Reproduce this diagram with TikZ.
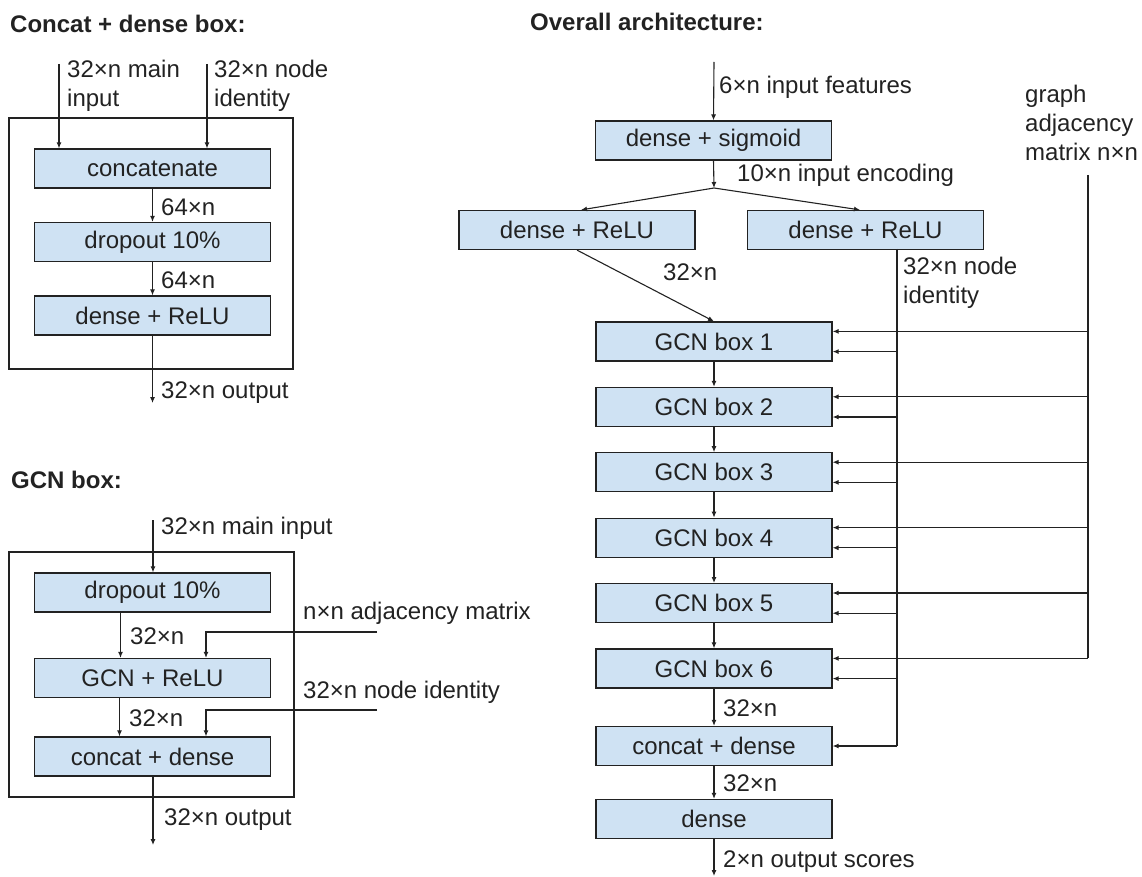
\documentclass[tikz,border=0pt]{standalone}
\usepackage{fontspec}
\setmainfont{Liberation Sans}
\usetikzlibrary{calc,arrows.meta}
\definecolor{boxfill}{HTML}{CFE2F3}
\definecolor{ink}{HTML}{222222}
\begin{document}
\begin{tikzpicture}[x=1pt,y=-1pt,
  every node/.style={font=\fontsize{24}{29}\selectfont, text=ink},
  box/.style={draw=ink, line width=1.2pt, fill=boxfill, minimum width=236pt, minimum height=39pt, inner sep=0pt},
  lbl/.style={anchor=west, align=left, inner sep=0pt},
  ttl/.style={anchor=west, inner sep=0pt, font=\fontsize{24}{29}\selectfont\bfseries},
  arr/.style={draw=ink, line width=1.1pt, -{Latex[length=6pt,width=5pt]}},
  wire/.style={draw=ink, line width=1.1pt},
  frame/.style={draw=ink, line width=1.3pt, inner sep=0pt}]
\useasboundingbox (0,0) rectangle (1142,877);

% ---------- Concat + dense box ----------
\node[ttl] (t1) at (10,24) {Concat + dense box:};
\node[frame, minimum width=284pt, minimum height=251pt] (fr1) at (151,243.5) {};
\node[box] (cat) at (152.5,168.5) {concatenate};
\node[box] (drop1) at (152.5,242) {dropout 10\%};
\node[box] (dense1) at (152.5,315.5) {dense + ReLU};
\coordinate (mainIn) at (59,64);
\coordinate (idIn) at (207,64);
\coordinate (out1) at (152.5,403);
\draw[arr] (mainIn) -- (mainIn |- cat.north);
\draw[arr] (idIn) -- (idIn |- cat.north);
\draw[arr] (cat) -- (drop1);
\draw[arr] (drop1) -- (dense1);
\draw[arr] (dense1.south) -- (out1);
\node[lbl] (l1) at (67,86) {32×n main\\input};
\node[lbl] (l2) at (214,86) {32×n node\\identity};
\node[lbl] (l3) at (161,207) {64×n};
\node[lbl] (l4) at (161,280) {64×n};
\node[lbl] (l5) at (161,393) {32×n output};

% ---------- GCN box ----------
\node[ttl] (t2) at (11,480) {GCN box:};
\node[frame, minimum width=285pt, minimum height=245pt] (fr2) at (151.5,674.5) {};
\node[box] (drop2) at (152.5,592.5) {dropout 10\%};
\node[box] (gcnr) at (152.5,678) {GCN + ReLU};
\node[box] (catd) at (152.5,756.5) {concat + dense};
\coordinate (in2) at (153,520);
\coordinate (out2) at (153,845);
\coordinate (adjS) at (377,632);
\coordinate (idS) at (377,710);
\draw[arr] (in2) -- (in2 |- drop2.north);
\draw[arr] ([xshift=-32pt]drop2.south) -- ([xshift=-32pt]gcnr.north);
\draw[arr] ([xshift=-33pt]gcnr.south) -- ([xshift=-33pt]catd.north);
\draw[arr] (adjS) -| ([xshift=53.5pt]gcnr.north);
\draw[arr] (idS) -| ([xshift=53.5pt]catd.north);
\draw[arr] (in2 |- catd.south) -- (out2);
\node[lbl] (m1) at (161,528) {32×n main input};
\node[lbl] (m2) at (130,636) {32×n};
\node[lbl] (m3) at (129,718) {32×n};
\node[lbl] (m4) at (303,613) {n×n adjacency matrix};
\node[lbl] (m5) at (303,692) {32×n node identity};
\node[lbl] (m6) at (164,820) {32×n output};

% ---------- Overall architecture ----------
\node[ttl] (t3) at (530,22) {Overall architecture:};
\node[box] (sig) at (713.5,140.5) {dense + sigmoid};
\node[box] (relL) at (577,230) {dense + ReLU};
\node[box] (relR) at (865.5,230) {dense + ReLU};
\foreach \i in {1,...,6} {
  \node[box] (g\i) at (714,{341.5+65.4*(\i-1)}) {GCN box \i};
}
\node[box] (cd) at (714,746) {concat + dense};
\node[box] (fin) at (714,819) {dense};

\coordinate (featIn) at (714,62);
\coordinate (split) at (714,188);
\coordinate (scoreOut) at (714,876);
\coordinate (idTop) at (897,249);
\coordinate (adjTop) at (1088,175);

\draw[arr] (featIn) -- (sig.north);
\draw[arr] (sig.south) -- (split);
\draw[arr] (split) -- ([xshift=4pt]relL.north);
\draw[arr] (split) -- ([xshift=-5.5pt]relR.north);
\draw[arr] (relL.south) -- (g1.north);
\foreach \i [count=\j from 2] in {1,...,5} {
  \draw[arr] (g\i) -- (g\j);
}
\draw[arr] (g6) -- (cd);
\draw[arr] (cd) -- (fin);
\draw[arr] (fin.south) -- (scoreOut);

% adjacency bus and node-identity bus
\foreach \i in {1,...,6} {
  \coordinate (a\i) at ($(g\i.north east)+(0,10)$);
  \coordinate (b\i) at ($(g\i.south east)+(0,-10)$);
}
\draw[wire] (adjTop) -- (adjTop |- a6);
\draw[wire] (idTop) -- (idTop |- cd.east);
\foreach \i in {1,...,6} {
  \draw[arr] (adjTop |- a\i) -- (a\i);
  \draw[arr] (idTop |- b\i) -- (b\i);
}
\draw[arr] (idTop |- cd.east) -- (cd.east);

\node[lbl] (r1) at (719,87) {6×n input features};
\node[lbl] (r2) at (737,175) {10×n input encoding};
\node[lbl] (r3) at (663,272) {32×n};
\node[lbl] (r4) at (903,283) {32×n node\\identity};
\node[lbl] (r5) at (1025,123) {graph\\adjacency\\matrix n×n};
\node[lbl] (r6) at (723,708) {32×n};
\node[lbl] (r7) at (723,783) {32×n};
\node[lbl] (r8) at (723,862) {2×n output scores};
\end{tikzpicture}
\end{document}
